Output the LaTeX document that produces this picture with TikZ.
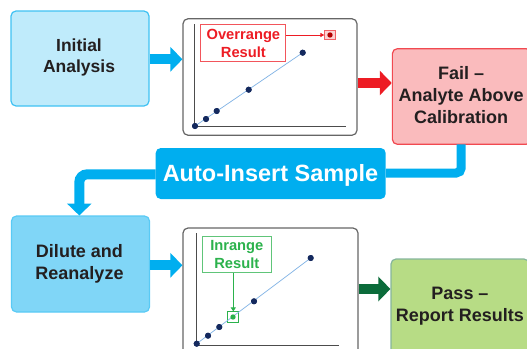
\documentclass[tikz,border=0pt]{standalone}
\usepackage{fontspec}
\setmainfont{Liberation Sans}
\usetikzlibrary{arrows.meta,calc}
\definecolor{txt}{HTML}{231F20}
\definecolor{cy}{HTML}{00AEEF}
\definecolor{navy}{HTML}{14295E}
\definecolor{redm}{HTML}{ED1C24}
\definecolor{gr}{HTML}{2BB24C}
\definecolor{dgr}{HTML}{0B6B3A}
\definecolor{linec}{HTML}{7FB2E5}
\definecolor{passfill}{HTML}{B7DC85}
\tikzset{
 x=1pt,y=-1pt,
 bigbox/.style={rounded corners=5pt,line width=1.2pt,inner sep=0pt,minimum width=#1},
 boxtext/.style={align=center,text=txt,inner sep=0pt,font=\fontsize{18pt}{22pt}\selectfont\bfseries},
 chart/.style={draw=black!60,line width=1.2pt,rounded corners=5pt,fill=white,inner sep=0pt},
 axisline/.style={draw=black!70,line width=0.9pt},
 pt/.style={circle,fill=navy,inner sep=0pt,minimum size=6pt},
 trend/.style={draw=linec,line width=0.7pt},
 blockarrow/.style={line width=10pt,-{Triangle[length=12pt,width=24pt]}},
 lab/.style={draw=#1!75!white,fill=white,line width=1pt,text=#1,align=center,inner sep=0pt,
   font=\fontsize{14.7pt}{18pt}\selectfont\bfseries},
}
\begin{document}
\begin{tikzpicture}
\useasboundingbox (0,0) rectangle (527,348);
\clip (0,0) rectangle (527,348);
% boxes
\node[bigbox=138pt,minimum height=95pt,draw=cy!75!white,fill=cy!25!white] (init) at (80,58.5) {};
\node[boxtext,font=\fontsize{17.5pt}{21pt}\selectfont\bfseries] (initT) at (79,57.5) {Initial\\Analysis};
\node[bigbox=138pt,minimum height=96pt,draw=cy!65!white,fill=cy!50!white] (dil) at (80.5,264) {};
\node[boxtext,font=\fontsize{18pt}{22.5pt}\selectfont\bfseries] (dilT) at (79.5,264) {Dilute and\\Reanalyze};
\node[bigbox=138.7pt,minimum height=95.6pt,draw=redm!80!white,fill=redm!30!white] (fail) at (461.7,96.5) {};
\node[boxtext] (failT) at (461.2,95.3) {Fail –\\Analyte Above\\Calibration};
\node[bigbox=138pt,minimum height=96pt,draw=dgr!50!white,fill=passfill] (pass) at (460,307) {};
\node[boxtext] (passT) at (460,306.5) {Pass –\\Report Results};
\node[chart,minimum width=174pt,minimum height=116.5pt] (c1) at (270,77) {};
\node[chart,minimum width=175pt,minimum height=126pt] (c2) at (270.5,291) {};
\node[rounded corners=5pt,fill=cy,inner sep=0pt,minimum width=230pt,minimum height=51pt] (auto) at (270.7,173.5) {};
\node[text=white,inner sep=0pt,font=\fontsize{23.5pt}{28pt}\selectfont\bfseries] (autoT) at (270.5,175) {Auto-Insert Sample};
% process arrows
\coordinate (a1s) at (init.east |- 0,59.3);
\coordinate (a1e) at (c1.west |- 0,59.3);
\draw[blockarrow,draw=cy,fill=cy] (a1s) -- (a1e);
\coordinate (a2s) at (dil.east |- 0,265.3);
\coordinate (a2e) at (c2.west |- 0,265.3);
\draw[blockarrow,draw=cy,fill=cy] (a2s) -- (a2e);
\coordinate (a3s) at (c1.east |- 0,83);
\coordinate (a3e) at (fail.west |- 0,83);
\draw[blockarrow,draw=redm,fill=redm] (a3s) -- (a3e);
\coordinate (a4s) at (c2.east |- 0,289);
\coordinate (a4e) at (pass.west |- 0,289);
\draw[blockarrow,draw=dgr,fill=dgr] (a4s) -- (a4e);
% loop connectors
\coordinate (f2) at (461.2,173);
\coordinate (f3) at (auto.east |- f2);
\draw[line width=9pt,draw=cy,rounded corners=5pt] (461.2,144.3) -- (f2) -- (f3);
\coordinate (d2) at (79.3,174.3);
\coordinate (d1) at (auto.west |- d2);
\draw[line width=10pt,draw=cy,rounded corners=8pt,-{Triangle[length=12pt,width=24pt]}] (d1) -- (d2) -- (79.3,215.5);
% chart 1
\coordinate (o1) at (194.5,126.5);
\draw[axisline] (194.5,24) -- (o1) -- (346,126.5);
\node[pt] (p11) at (195,126) {};
\node[pt] (p12) at (206,119) {};
\node[pt] (p13) at (216.7,111) {};
\node[pt] (p14) at (248.7,89.7) {};
\node[pt] (p15) at (302.7,52.7) {};
\draw[trend] (p11.center) -- (p15.center);
\foreach \p in {p11,p12,p13,p14,p15}{\fill[navy] (\p) circle (3pt);}
\node[lab=redm,minimum width=85pt,minimum height=36.5pt] (over) at (243.4,43) {Overrange\\Result};
\node[draw=redm!70!white,fill=redm!20!white,line width=0.8pt,inner sep=0pt,minimum width=10.5pt,minimum height=8.6pt] (m1) at (330,35) {};
\fill[red!70!black] (m1.center) circle (2.7pt);
\draw[redm,line width=0.8pt,-{Triangle[length=4pt,width=4pt]}] (over.east |- m1) -- (m1.west);
% chart 2
\coordinate (o2) at (196,345);
\draw[axisline] (196,233) -- (o2) -- (338.7,345);
\node[pt] (p21) at (196.7,343.7) {};
\node[pt] (p22) at (208,335.7) {};
\node[pt] (p23) at (219.3,327) {};
\node[draw=gr,fill=white,line width=0.8pt,inner sep=0pt,minimum width=11pt,minimum height=10.3pt] (m2) at (233,317) {};
\node[pt] (p25) at (254,301.3) {};
\node[pt] (p26) at (310.7,258) {};
\draw[trend] (p21.center) -- (p26.center);
\foreach \p in {p21,p22,p23,p25,p26}{\fill[navy] (\p) circle (3pt);}
\fill[gr] (m2.center) circle (2.7pt);
\node[lab=gr,minimum width=69pt,minimum height=36.3pt] (inr) at (236.8,254.2) {Inrange\\Result};
\draw[gr,line width=0.8pt,-{Triangle[length=4pt,width=5pt]}] (233.3,0 |- inr.south) -- (233.3,0 |- m2.north);
\end{tikzpicture}
\end{document}
